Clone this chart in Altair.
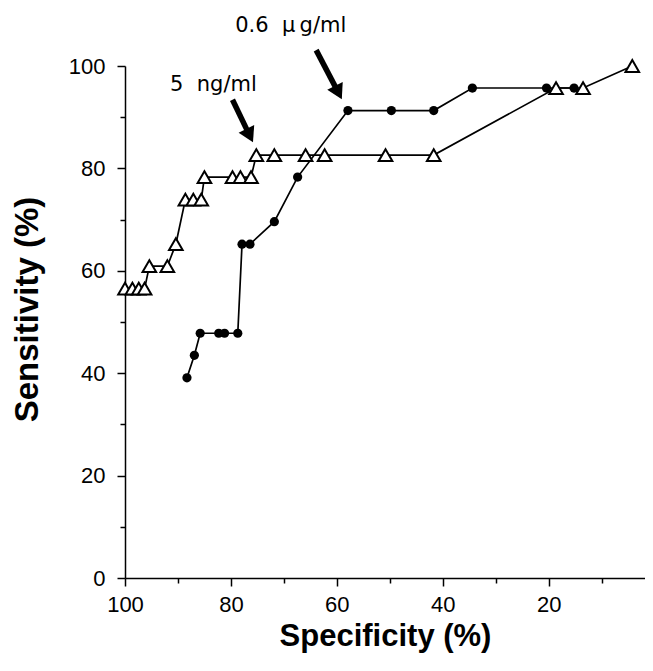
import altair as alt
import pandas as pd

# 5 ng/ml series (open triangles)
tri_spec = [100, 98.6, 97.4, 96.3, 95.4, 92.0, 90.4, 88.6, 87.1, 85.6, 85.0, 79.7, 78.2, 76.2,
            75.2, 71.8, 65.9, 62.3, 50.8, 41.7, 18.6, 13.5, 4.2]
tri_sens = [56.5, 56.5, 56.5, 56.5, 60.9, 60.9, 65.2, 73.9, 73.9, 73.9, 78.3, 78.3, 78.3, 78.3,
            82.6, 82.6, 82.6, 82.6, 82.6, 82.6, 95.7, 95.7, 100]

# 0.6 ug/ml series (filled circles)
cir_spec = [88.3, 86.9, 85.8, 82.3, 81.2, 78.7, 77.9, 76.4, 71.8, 67.4, 57.9, 49.7, 41.7, 34.4, 20.4, 15.2]
cir_sens = [39.1, 43.5, 47.8, 47.8, 47.8, 47.8, 65.2, 65.2, 69.6, 78.3, 91.3, 91.3, 91.3, 95.7, 95.7, 95.7]

# annotations
ann_text = ["0.6\u00a0\u00a0\u03bc\u2009g/ml", "5\u00a0\u00a0ng/ml"]
ann_x = [68.7, 83.3]
ann_y = [106.6, 95.1]
arrow_x1 = [63.9, 79.7]
arrow_y1 = [103.1, 93.4]
arrow_x2 = [59.7, 76.45]
arrow_y2 = [94.8, 86.4]
arrow_angle = [333, 334]

tri = pd.DataFrame({"spec": tri_spec, "sens": tri_sens, "i": range(len(tri_spec)), "s": "tri"})
cir = pd.DataFrame({"spec": cir_spec, "sens": cir_sens, "i": range(len(cir_spec)), "s": "cir"})
both = pd.concat([tri, cir])
ann = pd.DataFrame({"t": ann_text, "x": ann_x, "y": ann_y})
arr = pd.DataFrame({"x": arrow_x1, "y": arrow_y1, "x2": arrow_x2, "y2": arrow_y2, "a": arrow_angle})

ticks = list(range(0, 101, 10))
# the right end of the reference axis (0 %) is cut by the picture edge
xscale = alt.Scale(domain=[1.8, 100], reverse=True, nice=False, zero=False)
yscale = alt.Scale(domain=[0, 100], nice=False)
tick_cond = {"condition": {"test": "datum.value % 20 !== 0", "value": 5}, "value": 8}
lab = "datum.value % 20 === 0 ? datum.label : ''"

xax = alt.Axis(values=ticks, title="Specificity (%)", labelExpr=lab, tickSize=tick_cond,
               labelPadding=8, titlePadding=6, grid=False, labelFlush=False, titleFontSize=31)
yax = alt.Axis(values=ticks, title="Sensitivity (%)", labelExpr=lab, tickSize=tick_cond,
               labelPadding=12, titlePadding=24, grid=False, titleY=243)

X = alt.X("spec:Q", scale=xscale, axis=xax)
Y = alt.Y("sens:Q", scale=yscale, axis=yax)

lines = alt.Chart(both).mark_line(color="black", strokeWidth=1.7).encode(
    x=X, y=Y, detail="s:N", order="i:Q")
circles = alt.Chart(cir).mark_point(shape="circle", filled=True, color="black", size=85, opacity=1).encode(
    x=X, y=Y)
triangles = alt.Chart(tri).mark_point(shape="triangle-up", filled=True, fill="white", stroke="black",
                                      strokeWidth=2, size=185, opacity=1).encode(x=X, y=Y)

shafts = alt.Chart(arr).mark_rule(color="black", strokeWidth=5.5).encode(
    x=alt.X("x:Q", scale=xscale, axis=xax), y=alt.Y("y:Q", scale=yscale, axis=yax),
    x2="x2:Q", y2="y2:Q")
heads = alt.Chart(arr).mark_point(shape="triangle-down", filled=True, color="black", size=300, opacity=1).encode(
    x=alt.X("x2:Q", scale=xscale, axis=xax), y=alt.Y("y2:Q", scale=yscale, axis=yax),
    angle=alt.Angle("a:Q", scale=None))
texts = alt.Chart(ann).mark_text(font="DejaVu Sans", fontSize=21, color="black", align="center",
                                 baseline="alphabetic").encode(
    x=alt.X("x:Q", scale=xscale, axis=xax), y=alt.Y("y:Q", scale=yscale, axis=yax), text="t:N")

chart = alt.layer(lines, circles, triangles, shafts, heads, texts).properties(
    width=520, height=512,
    autosize=alt.AutoSizeParams(type="none"),
    padding={"left": 117, "top": 58, "right": 0, "bottom": 81},
).configure_view(stroke=None).configure_axis(
    domainColor="black", domainWidth=1.5, tickColor="black", tickWidth=1.5,
    labelColor="black", labelFont="Liberation Sans", labelFontSize=22,
    titleColor="black", titleFont="Liberation Sans", titleFontSize=33, titleFontWeight="bold",
)

chart.save("out.html", embed_options={"renderer": "svg", "actions": False})
